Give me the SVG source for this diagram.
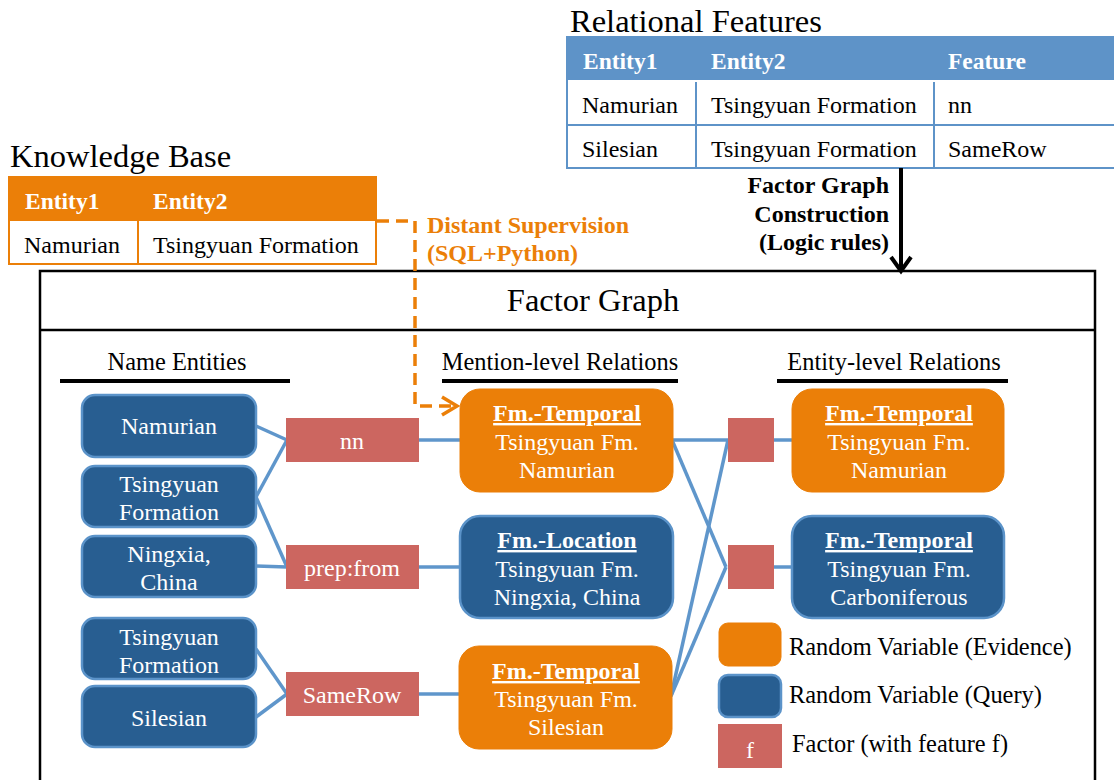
<svg xmlns="http://www.w3.org/2000/svg" width="1114" height="780" viewBox="0 0 1114 780">
<style>
text{font-family:"Liberation Serif","Times New Roman",serif;}
.title{font-size:32.5px;fill:#000;}
.th{font-size:23.5px;font-weight:bold;fill:#fff;}
.td{font-size:24px;fill:#000;}
.sec{font-size:24.4px;fill:#000;text-anchor:middle;}
.nt{font-size:24px;fill:#fff;text-anchor:middle;}
.nb{font-size:24px;fill:#fff;text-anchor:middle;font-weight:bold;text-decoration:underline;}
.lab{font-size:24px;font-weight:bold;}
.leg{font-size:24.4px;fill:#000;}
.blue{fill:#285E91;stroke:#5B93C9;stroke-width:2.5;}
.orange{fill:#EB7F08;stroke:#EB7F08;stroke-width:1;}
.factor{fill:#CC6660;}
.edge{stroke:#5F96CB;stroke-width:3.5;fill:none;}
</style>
<defs>
<marker id="ah" markerWidth="20" markerHeight="24" refX="16" refY="12" orient="auto" markerUnits="userSpaceOnUse" viewBox="0 0 20 24">
<path d="M2,2 L16,12 L2,22" fill="none" stroke="#000" stroke-width="4"/>
</marker>
<marker id="ahO" markerWidth="20" markerHeight="22" refX="17" refY="11" orient="auto" markerUnits="userSpaceOnUse" viewBox="0 0 20 22">
<path d="M2,2 L17,11 L2,20" fill="none" stroke="#EB7F08" stroke-width="3.5"/>
</marker>
</defs>

<!-- Relational Features table -->
<g id="relational-features">
<text class="title" x="570" y="32">Relational Features</text>
<rect x="567" y="37" width="549" height="131" fill="#fff" stroke="#5E93C8" stroke-width="2"/>
<rect x="567" y="37" width="549" height="43" fill="#5E93C8"/>
<line x1="567" y1="125" x2="1114" y2="125" stroke="#5E93C8" stroke-width="2"/>
<line x1="696" y1="82" x2="696" y2="168" stroke="#5E93C8" stroke-width="2"/>
<line x1="934" y1="82" x2="934" y2="168" stroke="#5E93C8" stroke-width="2"/>
<text class="th" x="583" y="69">Entity1</text>
<text class="th" x="711" y="69">Entity2</text>
<text class="th" x="948" y="69">Feature</text>
<text class="td" x="582" y="113">Namurian</text>
<text class="td" x="711" y="113">Tsingyuan Formation</text>
<text class="td" x="948" y="113">nn</text>
<text class="td" x="582" y="157">Silesian</text>
<text class="td" x="711" y="157">Tsingyuan Formation</text>
<text class="td" x="948" y="157">SameRow</text>
</g>

<!-- Knowledge Base table -->
<g id="knowledge-base">
<text class="title" x="10" y="167">Knowledge Base</text>
<rect x="9" y="177" width="367" height="87" fill="#fff" stroke="#EB7F08" stroke-width="2"/>
<rect x="9" y="177" width="367" height="44" fill="#EB7F08"/>
<line x1="138" y1="177" x2="138" y2="264" stroke="#EB7F08" stroke-width="2"/>
<text class="th" x="25" y="209">Entity1</text>
<text class="th" x="153" y="209">Entity2</text>
<text class="td" x="24" y="253">Namurian</text>
<text class="td" x="153" y="253">Tsingyuan Formation</text>
</g>

<!-- Factor graph frame -->
<g id="factor-graph-frame">
<rect x="40" y="271" width="1055" height="520" fill="none" stroke="#000" stroke-width="2.5"/>
<line x1="40" y1="330" x2="1095" y2="330" stroke="#000" stroke-width="2.5"/>
<text x="593" y="311" font-size="32.5" text-anchor="middle" fill="#000">Factor Graph</text>
</g>

<!-- Section headers -->
<g id="section-headers">
<text class="sec" x="177" y="370">Name Entities</text>
<rect x="60" y="379" width="230" height="4" fill="#000"/>
<text class="sec" x="560" y="370">Mention-level Relations</text>
<rect x="442" y="379" width="236" height="4" fill="#000"/>
<text class="sec" x="894" y="370">Entity-level Relations</text>
<rect x="777" y="379" width="231" height="4" fill="#000"/>
</g>

<!-- Connectors -->
<g id="connectors">
<line class="edge" x1="256" y1="426" x2="287" y2="440"/>
<line class="edge" x1="256" y1="497" x2="287" y2="440"/>
<line class="edge" x1="256" y1="497" x2="287" y2="567"/>
<line class="edge" x1="256" y1="566" x2="287" y2="567"/>
<line class="edge" x1="256" y1="649" x2="287" y2="694"/>
<line class="edge" x1="256" y1="717" x2="287" y2="694"/>
<line class="edge" x1="419" y1="440" x2="461" y2="440"/>
<line class="edge" x1="419" y1="567" x2="461" y2="567"/>
<line class="edge" x1="419" y1="694" x2="461" y2="694"/>
<polyline class="edge" points="672,440 728,440"/>
<line class="edge" x1="672" y1="440" x2="726" y2="567"/>
<line class="edge" x1="671" y1="696" x2="728" y2="440"/>
<line class="edge" x1="671" y1="696" x2="726" y2="567"/>
<line class="edge" x1="773" y1="440" x2="793" y2="440"/>
<line class="edge" x1="773" y1="567" x2="793" y2="567"/>
<line x1="901" y1="168" x2="901" y2="271" stroke="#000" stroke-width="4" marker-end="url(#ah)"/>
<polyline points="377,221 415,221 415,406 457,406" fill="none" stroke="#EB7F08" stroke-width="3.5" stroke-dasharray="12,7" marker-end="url(#ahO)"/>
</g>

<!-- Edge labels -->
<g id="edge-labels">
<text class="lab" x="889" y="193" text-anchor="end" fill="#000">Factor Graph</text>
<text class="lab" x="889" y="222" text-anchor="end" fill="#000">Construction</text>
<text class="lab" x="889" y="250" text-anchor="end" fill="#000">(Logic rules)</text>
<text class="lab" x="427" y="233" fill="#EB7F08">Distant Supervision</text>
<text class="lab" x="427" y="261" fill="#EB7F08">(SQL+Python)</text>
</g>

<!-- Name entity nodes -->
<g id="ne-namurian"><rect class="blue" x="82" y="395" width="174" height="62" rx="13"/><text class="nt" x="169" y="434">Namurian</text></g>
<g id="ne-tsingyuan1"><rect class="blue" x="82" y="466" width="174" height="61" rx="13"/><text class="nt" x="169" y="492">Tsingyuan</text><text class="nt" x="169" y="520">Formation</text></g>
<g id="ne-ningxia"><rect class="blue" x="82" y="536" width="174" height="61" rx="13"/><text class="nt" x="169" y="562">Ningxia,</text><text class="nt" x="169" y="590">China</text></g>
<g id="ne-tsingyuan2"><rect class="blue" x="82" y="618" width="174" height="61" rx="13"/><text class="nt" x="169" y="645">Tsingyuan</text><text class="nt" x="169" y="673">Formation</text></g>
<g id="ne-silesian"><rect class="blue" x="82" y="686" width="174" height="61" rx="13"/><text class="nt" x="169" y="726">Silesian</text></g>

<!-- Factors -->
<g id="f-nn"><rect class="factor" x="286" y="418" width="133" height="44"/><text class="nt" x="352" y="449">nn</text></g>
<g id="f-prep"><rect class="factor" x="286" y="545" width="133" height="44"/><text class="nt" x="352" y="576">prep:from</text></g>
<g id="f-samerow"><rect class="factor" x="286" y="672" width="133" height="44"/><text class="nt" x="352" y="703">SameRow</text></g>
<g id="f-e1"><rect class="factor" x="728" y="418" width="46" height="44"/></g>
<g id="f-e2"><rect class="factor" x="728" y="545" width="46" height="44"/></g>

<!-- Mention-level nodes -->
<g id="m-temporal1"><rect class="orange" x="460" y="389" width="213" height="103" rx="20"/><text class="nb" x="567" y="421">Fm.-Temporal</text><text class="nt" x="567" y="450">Tsingyuan Fm.</text><text class="nt" x="567" y="478">Namurian</text></g>
<g id="m-location"><rect class="blue" x="460" y="516" width="213" height="102" rx="20"/><text class="nb" x="567" y="548">Fm.-Location</text><text class="nt" x="567" y="577">Tsingyuan Fm.</text><text class="nt" x="567" y="605">Ningxia, China</text></g>
<g id="m-temporal2"><rect class="orange" x="459" y="646" width="213" height="103" rx="20"/><text class="nb" x="566" y="679">Fm.-Temporal</text><text class="nt" x="566" y="707">Tsingyuan Fm.</text><text class="nt" x="566" y="735">Silesian</text></g>

<!-- Entity-level nodes -->
<g id="e-temporal1"><rect class="orange" x="792" y="389" width="212" height="103" rx="20"/><text class="nb" x="899" y="421">Fm.-Temporal</text><text class="nt" x="899" y="450">Tsingyuan Fm.</text><text class="nt" x="899" y="478">Namurian</text></g>
<g id="e-temporal2"><rect class="blue" x="792" y="516" width="212" height="102" rx="20"/><text class="nb" x="899" y="548">Fm.-Temporal</text><text class="nt" x="899" y="577">Tsingyuan Fm.</text><text class="nt" x="899" y="605">Carboniferous</text></g>

<!-- Legend -->
<g id="legend">
<rect class="orange" x="719" y="623" width="62" height="43" rx="9"/>
<rect class="blue" x="719" y="675" width="62" height="42" rx="9"/>
<rect class="factor" x="718" y="724" width="64" height="44"/>
<text class="nt" x="750" y="758">f</text>
<text class="leg" x="789" y="655">Random Variable (Evidence)</text>
<text class="leg" x="789" y="703">Random Variable (Query)</text>
<text class="leg" x="792" y="752">Factor (with feature f)</text>
</g>
</svg>
